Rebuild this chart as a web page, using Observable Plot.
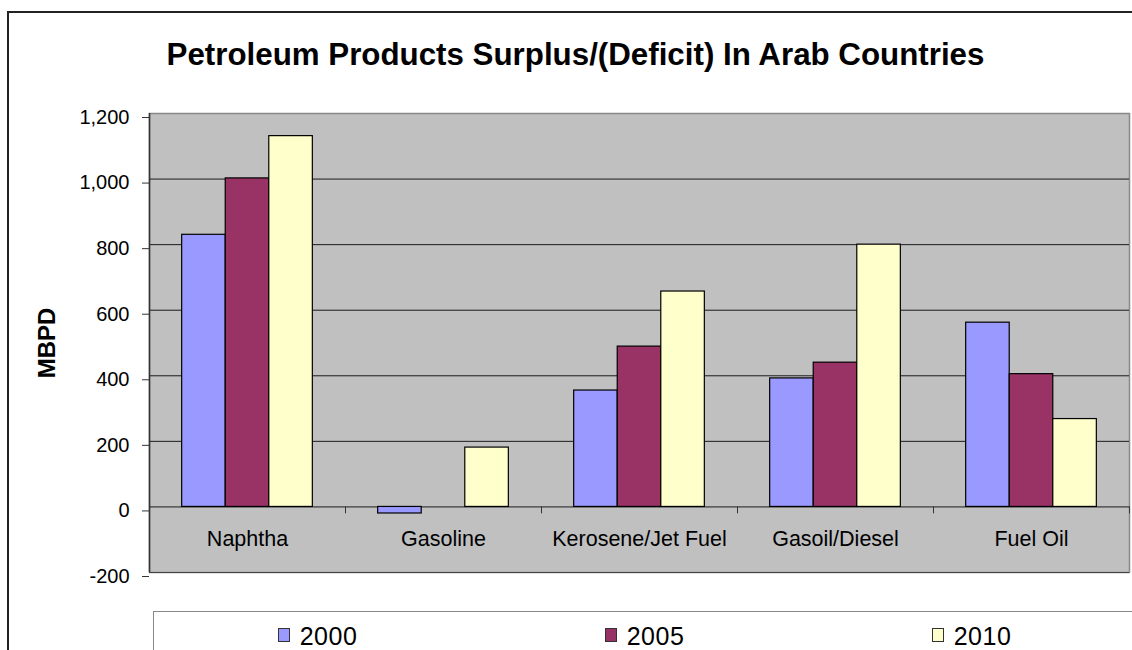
<!DOCTYPE html>
<html>
<head>
<meta charset="utf-8">
<script src="https://cdn.jsdelivr.net/npm/d3@7"></script>
<script src="https://cdn.jsdelivr.net/npm/@observablehq/plot@0.6"></script>
<style>
  html, body { margin: 0; padding: 0; background: #fff; overflow: hidden; width: 1132px; height: 650px; }
  body { font-family: "Liberation Sans", Arial, sans-serif; position: relative; }
  #border { position: absolute; left: 7px; top: 11px; width: 1300px; height: 800px; border: 2px solid #222; box-sizing: border-box; }
  #wrap { position: relative; }
  #title { height: 90px; box-sizing: border-box; padding-top: 40px; line-height: 30px; font-size: 31.3px; font-weight: bold; text-align: center; width: 1151px; color: #000; white-space: nowrap; }
  #chart svg { display: block; }
  #legend { margin-top: 11px; margin-left: 153px; width: 983px; height: 60px; border: 1px solid #888; box-sizing: border-box; display: flex; background: #fff; }
  .item { flex: 1; display: flex; justify-content: center; align-items: flex-start; padding-top: 13px; }
  .sw { width: 12px; height: 14px; border: 1px solid #333; box-sizing: border-box; margin-right: 10px; margin-top: 3px; }
  .lab { font-size: 25px; line-height: 22px; letter-spacing: 0.5px; color: #000; }
</style>
</head>
<body>
<div id="border"></div>
<div id="wrap">
  <div id="title"></div>
  <div id="chart"></div>
  <div id="legend"></div>
</div>
<script>
const title = "Petroleum Products Surplus/(Deficit) In Arab Countries";
const yLabel = "MBPD";
const categories = ["Naphtha", "Gasoline", "Kerosene/Jet Fuel", "Gasoil/Diesel", "Fuel Oil"];
const years = ["2000", "2005", "2010"];
const values2000 = [830, -20, 355, 392, 562];
const values2005 = [1002, 0, 489, 440, 405];
const values2010 = [1131, 181, 657, 800, 268];
const colors = ["#9999ff", "#993366", "#ffffcc"];
const yTicks = [-200, 0, 200, 400, 600, 800, 1000, 1200];

const series = [values2000, values2005, values2010];
const rows = [];
years.forEach((year, j) => {
  categories.forEach((cat, i) => {
    rows.push({cat, year, value: series[j][i], i, j});
  });
});

const groupPad = 1 / 6;
const barW = (1 - 2 * groupPad) / years.length;
const boundaries = d3.range(0, categories.length + 1);

document.getElementById("title").textContent = title;

const chart = Plot.plot({
  width: 1132,
  height: 510,
  marginTop: 23,
  marginBottom: 28,
  marginLeft: 149,
  marginRight: 3,
  style: {fontFamily: '"Liberation Sans", Arial, sans-serif', fontSize: "20px", color: "#000", background: "transparent"},
  x: {domain: [0, categories.length], axis: null},
  y: {domain: [-200, 1200], axis: null},
  color: {domain: years, range: colors},
  marks: [
    Plot.frame({fill: "#c0c0c0", stroke: "#888", strokeWidth: 1.5}),
    Plot.ruleY(yTicks.filter(d => d > -200 && d < 1200), {stroke: "#1a1a1a", strokeWidth: 1}),
    Plot.ruleY([-200], {stroke: "#444", strokeWidth: 1}),
    Plot.ruleX([0], {stroke: "#333", strokeWidth: 1.5}),
    Plot.ruleX(boundaries, {x: d => d, y1: 0, y2: -21, stroke: "#333", strokeWidth: 1}),
    Plot.rect(rows, {
      x1: d => d.i + groupPad + d.j * barW,
      x2: d => d.i + groupPad + (d.j + 1) * barW,
      y1: 0,
      y2: "value",
      fill: "year",
      stroke: "#000",
      strokeWidth: 1.2
    }),
    Plot.text(categories, {x: (d, i) => i + 0.5, frameAnchor: "bottom", dy: -27, fontSize: 21.5, fill: "#000"}),
    Plot.axisY({ticks: yTicks, tickSize: 7, tickPadding: 13, tickFormat: d => d.toLocaleString("en-US"), fontSize: 20, label: null, stroke: "#333", dy: 4}),
    Plot.text([yLabel], {frameAnchor: "left", textAnchor: "middle", lineAnchor: "middle", dx: -102, rotate: -90, fontWeight: "bold", fontSize: 24, fill: "#000"})
  ]
});
document.getElementById("chart").appendChild(chart);

const legend = document.getElementById("legend");
years.forEach((y, j) => {
  const item = document.createElement("div");
  item.className = "item";
  const sw = document.createElement("div");
  sw.className = "sw";
  sw.style.background = colors[j];
  const lab = document.createElement("div");
  lab.className = "lab";
  lab.textContent = y;
  item.appendChild(sw);
  item.appendChild(lab);
  legend.appendChild(item);
});
</script>
</body>
</html>
